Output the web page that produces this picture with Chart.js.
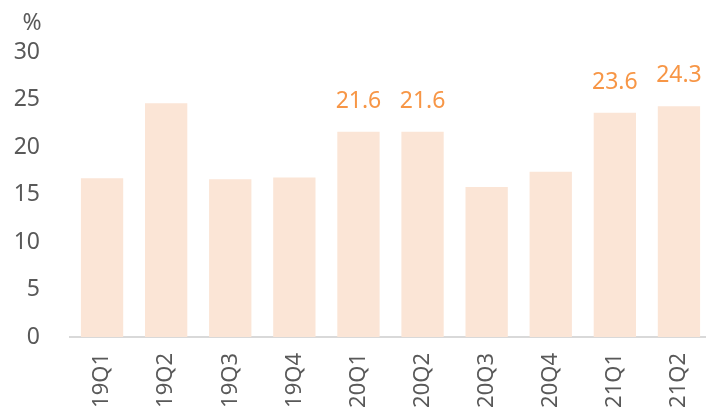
<!DOCTYPE html>
<html>
<head>
<meta charset="utf-8">
<script src="https://cdn.jsdelivr.net/npm/chart.js@4"></script>
<style>
  html, body { margin: 0; padding: 0; background: #fff; overflow: hidden; }
  #wrap { width: 711px; height: 415px; position: relative; }
</style>
</head>
<body>
<div id="wrap"><canvas id="bieudo"></canvas></div>
<script>
const quarters = ['19Q1', '19Q2', '19Q3', '19Q4', '20Q1', '20Q2', '20Q3', '20Q4', '21Q1', '21Q2'];
const values = [16.7, 24.6, 16.6, 16.8, 21.6, 21.6, 15.8, 17.4, 23.6, 24.3];
// only these bars carry a value label in the original
const labeledIdx = [4, 5, 8, 9];
const unitLabel = '%';

const fontName = '"Noto Sans", "Open Sans", sans-serif';

const nhanGiaTri = {
    id: 'nhanGiaTri',
    afterDatasetsDraw(chart) {
        const ctx = chart.ctx;
        const meta = chart.getDatasetMeta(0);
        ctx.save();
        ctx.fillStyle = '#f79646';
        ctx.font = '23px ' + fontName;
        ctx.textAlign = 'center';
        ctx.textBaseline = 'alphabetic';
        labeledIdx.forEach(i => {
            const bar = meta.data[i];
            ctx.fillText(values[i].toFixed(1), bar.x, bar.y - 24);
        });
        // unit above the y axis
        ctx.fillStyle = '#595959';
        ctx.fillText(unitLabel, 32, 30);
        ctx.restore();
    }
};

new Chart(document.getElementById('bieudo'), {
    type: 'bar',
    data: {
        labels: quarters,
        datasets: [{
            data: values,
            backgroundColor: '#fbe5d6',
            categoryPercentage: 1,
            barPercentage: 0.66
        }]
    },
    options: {
        responsive: true,
        maintainAspectRatio: false,
        animation: false,
        layout: { padding: { top: 52, right: 0, left: 0, bottom: 0 } },
        plugins: {
            legend: { display: false },
            tooltip: { enabled: false }
        },
        scales: {
            y: {
                min: 0,
                max: 30,
                ticks: {
                    stepSize: 5,
                    color: '#595959',
                    font: { family: fontName, size: 23 },
                    padding: 30
                },
                grid: { display: false, drawTicks: false },
                border: { display: false },
                afterFit(scale) { scale.width = 70; }
            },
            x: {
                ticks: {
                    minRotation: 90,
                    maxRotation: 90,
                    autoSkip: false,
                    color: '#595959',
                    font: { family: fontName, size: 22 },
                    padding: 16
                },
                grid: { display: false, drawTicks: false },
                border: { display: true, color: '#d9d9d9', width: 2 },
                afterFit(scale) {
                    scale.height = 78;
                    scale.paddingLeft = 0;
                    scale.paddingRight = 0;
                }
            }
        }
    },
    plugins: [nhanGiaTri]
});
</script>
</body>
</html>
